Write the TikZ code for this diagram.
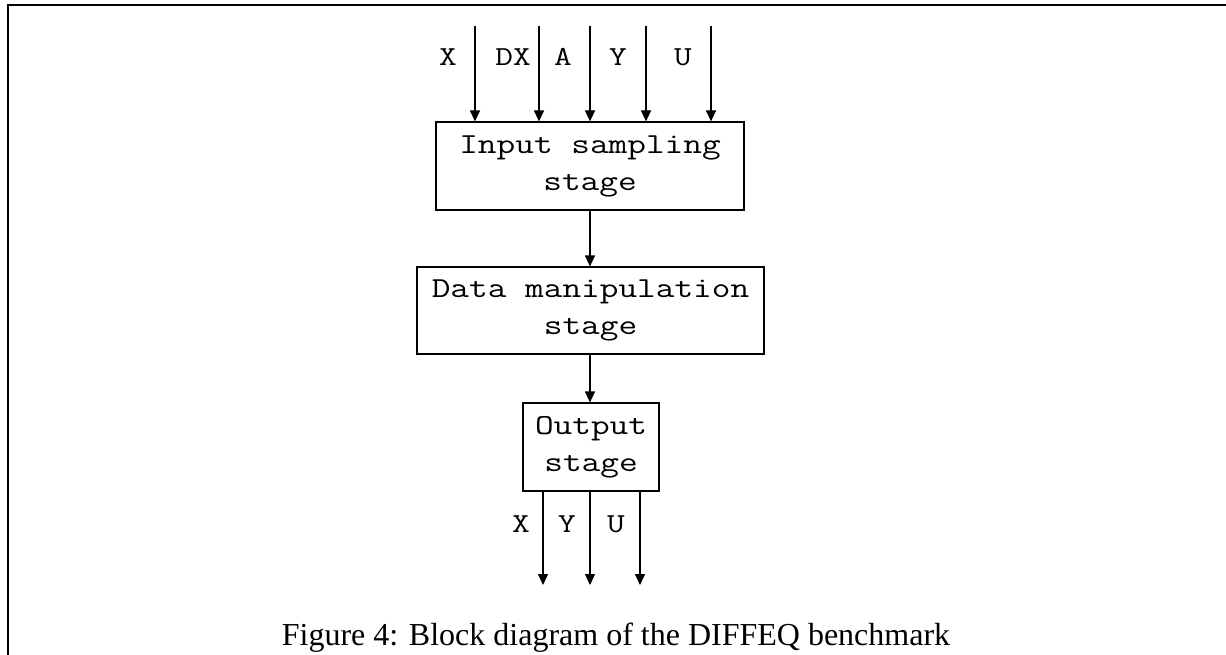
\documentclass[tikz,border=0pt]{standalone}
\usepackage{fontspec}
\setmainfont{Liberation Serif}
\newfontfamily\cour[FakeStretch=1.25]{Latin Modern Mono}
\usetikzlibrary{arrows.meta}
\begin{document}
\begin{tikzpicture}[x=1pt,y=-1pt,
  line width=1.2pt,
  arr/.style={-{Triangle[width=10pt,length=11pt]}},
  blk/.style={draw, rectangle, inner sep=0pt, align=center,
              font=\cour\fontsize{29}{37}\selectfont},
  lab/.style={inner sep=0pt, anchor=base, font=\cour\fontsize{27.5}{30}\selectfont},
  captext/.style={inner sep=0pt, anchor=base, font=\fontsize{32}{38}\selectfont}]
\useasboundingbox (0,0) rectangle (1226,655);
\draw[line width=2pt] (1226,5) -- (8,5) -- (8,655);

% blocks
\node[blk, minimum width=308pt, minimum height=88pt] (in) at (590,166)
  {Input sampling\\stage};
\node[blk, minimum width=347pt, minimum height=87pt] (dm) at (590.5,310.5)
  {Data manipulation\\stage};
\node[blk, minimum width=136pt, minimum height=88pt] (out) at (591,447)
  {Output\\stage};

% input arrows
\foreach \n/\x in {1/475,2/539,3/590,4/646,5/711}{
  \coordinate (t\n) at (\x,26);
  \draw[arr] (t\n) -- (t\n |- in.north);
}
\node[lab] (lx) at (448,66) {X};
\node[lab] (ldx) at (513,66) {DX};
\node[lab] (la) at (563,66) {A};
\node[lab] (ly) at (618,66) {Y};
\node[lab] (lu) at (683,66) {U};

% internal arrows
\draw[arr] (in.south) -- (dm.north -| in.south);
\draw[arr] (dm.south -| in.south) -- (out.north -| in.south);

% output arrows
\foreach \n/\x in {1/543,2/590,3/640}{
  \coordinate (b\n) at (\x,585);
  \draw[arr] (b\n |- out.south) -- (b\n);
}
\node[lab] (ox) at (521,532) {X};
\node[lab] (oy) at (567,532) {Y};
\node[lab] (ou) at (616,532) {U};

% caption
\node[captext] (caption) at (616,645) {Figure 4: Block diagram of the DIFFEQ benchmark};
\end{tikzpicture}
\end{document}
